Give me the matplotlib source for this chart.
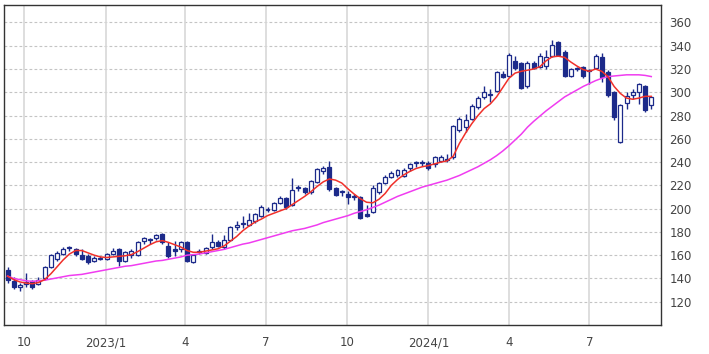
import matplotlib
matplotlib.use("Agg")
import matplotlib.pyplot as plt
import matplotlib.dates as mdates
import numpy as np
import pandas as pd

# weekly candles
week_start = "2022-09-12"
opens = [147, 138, 133, 135, 138, 135, 140, 150, 157, 161, 167, 165, 160, 159, 155, 157, 157, 161, 165, 155,
         160, 160, 172, 174, 175, 178, 168, 165, 165, 171, 154, 163, 162, 167, 171, 167, 173, 184, 187, 186,
         189, 194, 199, 199, 205, 209, 203, 218, 218, 214, 223, 232, 236, 218, 214, 213, 210, 210, 195, 197,
         214, 222, 227, 229, 228, 235, 239, 239, 239, 238, 241, 242, 244, 268, 270, 277, 287, 296, 298, 301,
         316, 314, 327, 325, 305, 325, 322, 323, 331, 343, 335, 314, 320, 322, 318, 321, 330, 317, 300, 257,
         291, 298, 300, 305, 289]
highs = [150, 141, 136, 145, 139, 141, 151, 161, 164, 167, 168, 166, 165, 161, 159, 159, 162, 166, 166, 164,
         165, 172, 176, 175, 178, 179, 171, 172, 172, 172, 161, 165, 167, 178, 173, 177, 185, 189, 194, 196,
         196, 203, 201, 206, 211, 210, 226, 220, 219, 225, 235, 237, 241, 219, 216, 215, 213, 211, 203, 220,
         223, 229, 232, 234, 235, 239, 241, 242, 241, 245, 246, 247, 272, 279, 281, 290, 297, 305, 303, 318,
         318, 334, 331, 326, 327, 327, 334, 336, 345, 344, 336, 321, 322, 323, 320, 333, 334, 319, 301, 290,
         300, 303, 308, 306, 297]
lows = [136, 131, 129, 133, 131, 134, 139, 149, 155, 160, 164, 159, 156, 152, 154, 156, 156, 160, 151, 154,
        158, 159, 170, 170, 173, 170, 158, 159, 163, 154, 153, 161, 161, 165, 167, 165, 172, 182, 183, 185,
        188, 193, 197, 198, 204, 200, 202, 215, 213, 213, 222, 230, 215, 211, 211, 204, 207, 191, 193, 196,
        213, 221, 226, 227, 227, 232, 236, 237, 233, 236, 240, 240, 243, 266, 266, 276, 286, 294, 292, 300,
        312, 313, 319, 303, 304, 320, 321, 320, 330, 331, 313, 313, 318, 312, 307, 320, 309, 296, 276, 256,
        286, 294, 290, 283, 286]
closes = [139, 133, 134, 137, 133, 139, 150, 160, 162, 165, 166, 161, 157, 154, 158, 158, 161, 164, 155, 163,
          164, 171, 175, 173, 177, 171, 159, 164, 171, 155, 160, 164, 166, 171, 168, 173, 184, 186, 187, 190,
          195, 201, 199, 205, 209, 201, 216, 218, 214, 224, 234, 235, 217, 212, 214, 210, 210, 192, 194, 218,
          222, 227, 231, 233, 233, 238, 239, 240, 235, 244, 244, 243, 271, 277, 276, 288, 295, 300, 298, 317,
          313, 332, 321, 304, 325, 321, 331, 330, 341, 332, 314, 320, 320, 314, 318, 331, 313, 298, 279, 289,
          297, 300, 307, 285, 296]

# short (red) and long (magenta) moving averages
ma_short = [142, 139, 137, 136, 135.5, 136.5, 139, 144, 150, 156, 161, 164, 164, 162, 160, 158.5, 158, 158.5, 159, 159.5,
            160.5, 163, 166, 169, 171.5, 172.5, 171, 169, 167, 164, 162.5, 162.5, 163.5, 164.5, 165.5, 168, 172, 176, 181, 185,
            188.5, 191, 194, 196, 198, 200, 203.5, 207, 210.5, 214.5, 219, 223, 225.5, 224.5, 222, 217, 212.5, 208.5, 205.5, 205,
            208, 213, 220, 225, 229, 232, 234.5, 236, 237, 238.5, 240, 241, 245, 256, 265, 273, 280, 286, 290, 296,
            304, 312, 316.5, 318, 319, 320, 322, 327, 330.5, 331, 330, 326, 322.5, 319.5, 318, 320, 318, 313.5, 305, 299,
            295, 294, 295, 296.5, 296.5]
ma_long = [142, 140, 139, 138, 137.5, 138, 138.5, 139.5, 140.5, 141.5, 142.5, 143, 143.5, 144.5, 145.5, 146.5, 147.5, 148.5, 149.5, 150.5,
           151, 152, 153, 154, 155, 155.5, 156.5, 157.5, 158.5, 160, 160.5, 161, 162, 163, 164, 165, 166.5, 168, 169.5, 170.5,
           172, 173.5, 175, 176.5, 178, 179.5, 181, 182, 183, 184.5, 186, 188, 189.5, 191, 192.5, 194, 196, 197.5, 199, 201,
           203, 205.5, 208, 210.5, 212.5, 214.5, 216.5, 218.5, 220, 221.5, 223, 224.5, 226.5, 228.5, 231, 233.5, 236, 239, 242, 245.5,
           249.5, 254, 259, 264, 270, 275, 279.5, 284, 288, 292, 296, 299, 302, 305, 307.5, 310, 312, 313.5, 314, 314.5,
           315, 315, 315, 314.5, 313.5]

tick_dates = ["2022-10-01", "2023-01-01", "2023-04-01", "2023-07-01", "2023-10-01",
              "2024-01-01", "2024-04-01", "2024-07-01"]
tick_labels = ["10", "2023/1", "4", "7", "10", "2024/1", "4", "7"]
y_ticks = list(range(120, 361, 20))

navy = "#1c2a8a"

dates = pd.date_range(week_start, periods=len(closes), freq="7D")
x = mdates.date2num(dates)
o = np.array(opens, float)
c = np.array(closes, float)
h = np.array(highs, float)
l = np.array(lows, float)

fig = plt.figure(figsize=(7.09, 3.54), dpi=100)
ax = fig.add_axes([4 / 709, 29 / 354, 657 / 709, 320 / 354])

# grid
for v in y_ticks:
    ax.axhline(v, color="#c4c4c4", lw=0.8, ls=(0, (2.5, 2)), zorder=0)
for d in tick_dates:
    ax.axvline(mdates.datestr2num(d), color="#d8d8d8", lw=1.2, zorder=0)

# wicks
ax.vlines(x, l, h, color=navy, lw=1.0, zorder=2)

# bodies
up = c >= o
bottom = np.minimum(o, c)
height = np.maximum(np.abs(c - o), 0.9)
ax.bar(x[up], height[up], bottom=bottom[up], width=4.5, color="white",
       edgecolor=navy, linewidth=0.9, zorder=3)
ax.bar(x[~up], height[~up], bottom=bottom[~up], width=4.5, color=navy,
       edgecolor=navy, linewidth=0.9, zorder=3)

# moving averages
ax.plot(x, ma_long, color="#f03cf0", lw=1.1, zorder=4)
ax.plot(x, ma_short, color="#f0302a", lw=1.1, zorder=4)

ax.set_xlim(mdates.datestr2num("2022-09-08"), mdates.datestr2num("2024-09-20"))
ax.set_ylim(100, 375)

ax.yaxis.tick_right()
ax.set_yticks(y_ticks)
ax.set_xticks([mdates.datestr2num(d) for d in tick_dates])
ax.set_xticklabels(tick_labels)
ax.tick_params(axis="both", length=0, labelsize=8.5, colors="#444444")
ax.tick_params(axis="y", pad=6)
ax.tick_params(axis="x", pad=8)
for s in ax.spines.values():
    s.set_color("#333333")
    s.set_linewidth(1.0)

fig.savefig("out.png", dpi=100)
